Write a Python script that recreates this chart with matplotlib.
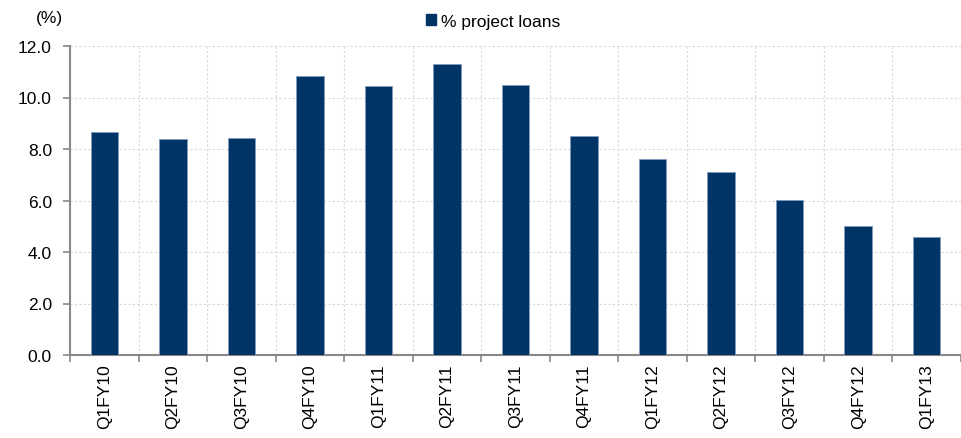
import numpy as np
import matplotlib.pyplot as plt
from matplotlib.patches import Patch

quarters = ["Q1FY10", "Q2FY10", "Q3FY10", "Q4FY10", "Q1FY11", "Q2FY11", "Q3FY11",
            "Q4FY11", "Q1FY12", "Q2FY12", "Q3FY12", "Q4FY12", "Q1FY13"]
project_loans = [8.65, 8.39, 8.43, 10.85, 10.45, 11.29, 10.47,
                 8.5, 7.6, 7.11, 6.01, 5.02, 4.6]
yticks = [0.0, 2.0, 4.0, 6.0, 8.0, 10.0, 12.0]

bar_color = "#003366"
axis_color = "#888888"

plt.rcParams["font.family"] = ["Liberation Sans", "DejaVu Sans"]

fig = plt.figure(figsize=(9.62, 4.39), dpi=100)
ax = fig.add_axes([70 / 962, 83 / 439, 891 / 962, 309 / 439])

x = np.arange(len(quarters))
ax.bar(x, project_loans, width=0.4, color=bar_color, edgecolor="#7f9bbd",
       linewidth=0.6, zorder=3)

ax.set_xlim(-0.5, len(quarters) - 0.5)
ax.set_ylim(0, 12)
ax.set_yticks(yticks)
ax.set_yticklabels([f"{v:.1f}" for v in yticks], fontsize=12.5)

ax.set_xticks(x)
ax.set_xticklabels(quarters, rotation=90, fontsize=12.5)
ax.set_xticks(np.arange(-0.5, len(quarters)), minor=True)
ax.tick_params(axis="x", which="major", length=0, pad=6)
ax.tick_params(axis="x", which="minor", length=5, color=axis_color, width=1.2)
ax.tick_params(axis="y", length=5, color=axis_color, width=1.2, pad=8)

ax.grid(True, axis="y", linestyle=(0, (2, 2)), color="#d8d8d8", linewidth=0.8, zorder=0)
ax.grid(True, axis="x", which="minor", linestyle=(0, (2, 2)), color="#d8d8d8",
        linewidth=0.8, zorder=0)

for side in ["top", "right"]:
    ax.spines[side].set_visible(False)
for side in ["left", "bottom"]:
    ax.spines[side].set_color(axis_color)
    ax.spines[side].set_linewidth(1.5)

fig.text(36 / 962, 1 - 19 / 439, "(%)", fontsize=12.5, va="center", ha="left")

handle = Patch(facecolor=bar_color, edgecolor=bar_color)
fig.legend([handle], ["% project loans"], loc="center", bbox_to_anchor=(493 / 962, 1 - 22 / 439),
           frameon=False, fontsize=12.5, handlelength=0.6, handleheight=0.6,
           handletextpad=0.3)

fig.savefig("out.png", dpi=100)
